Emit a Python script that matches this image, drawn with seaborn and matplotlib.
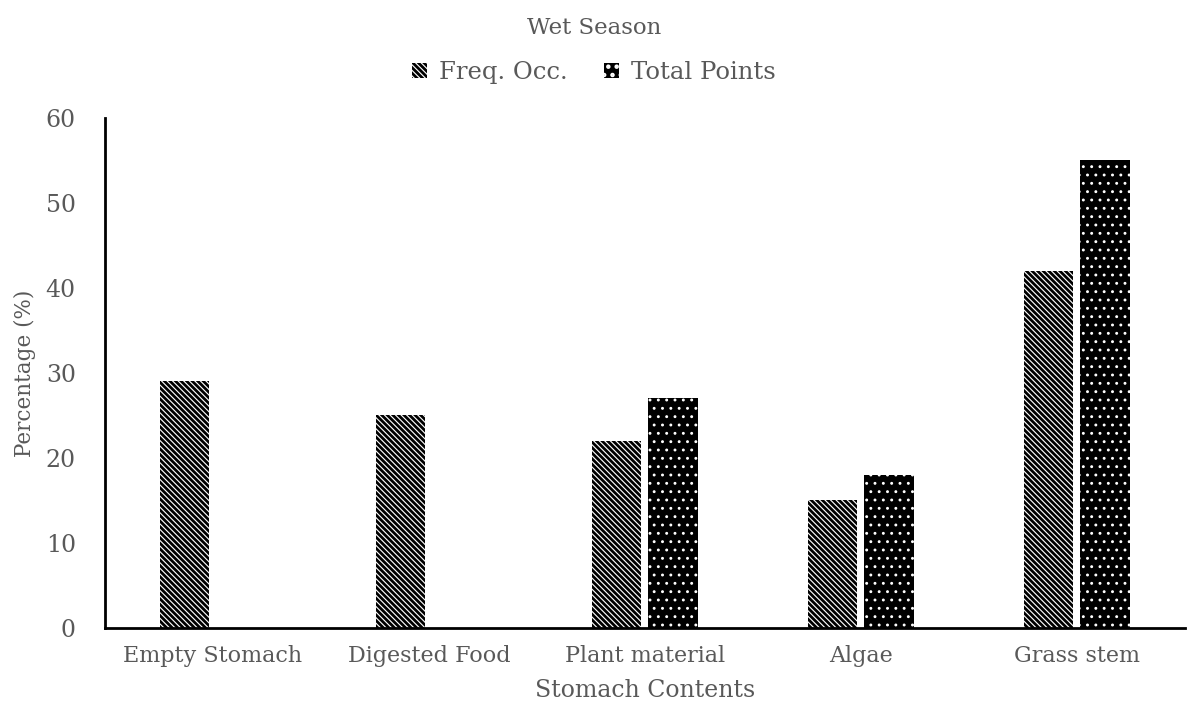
import pandas as pd
import seaborn as sns
import matplotlib.pyplot as plt
from matplotlib.patches import Patch

# stomach contents, wet season
categories = ['Empty Stomach', 'Digested Food', 'Plant material', 'Algae', 'Grass stem']
freq_occ = [29, 25, 22, 15, 42]
total_points = [0, 0, 27, 18, 55]

df = pd.DataFrame({
    'Stomach Contents': categories * 2,
    'Percentage': freq_occ + total_points,
    'Series': ['Freq. Occ.'] * 5 + ['Total Points'] * 5,
})

sns.set_style('white')
plt.rcParams['font.family'] = ['DejaVu Serif']
plt.rcParams['hatch.linewidth'] = 2.0
grey = '#595959'
stripe = '\\' * 6
dots = '..'


def set_hlw(p, lw):
    if hasattr(p, 'set_hatch_linewidth'):
        p.set_hatch_linewidth(lw)
    else:
        p._hatch_linewidth = lw


fig = plt.figure(figsize=(11.88, 7.03), dpi=100)
ax = fig.add_axes([0.0884, 0.1067, 0.909, 0.7255])

sns.barplot(data=df, x='Stomach Contents', y='Percentage', hue='Series',
            order=categories, width=0.52, gap=0.125, ax=ax, legend=False)

n = len(categories)
for i, bar in enumerate(ax.patches[:2 * n]):
    bar.set_linewidth(0)
    if i < n:
        bar.set_facecolor('white')
        bar.set_edgecolor('black')
        bar.set_hatch(stripe)
        set_hlw(bar, 2.0)
    else:
        bar.set_facecolor('black')
        bar.set_edgecolor('white')
        bar.set_hatch(dots)
        set_hlw(bar, 0.9)

ax.set_ylim(0, 60)
ax.set_xlim(-0.5, n - 0.5)
ax.set_yticks(range(0, 61, 10))
ax.tick_params(axis='both', length=0, colors=grey)
ax.tick_params(axis='y', labelsize=17, pad=21)
ax.tick_params(axis='x', labelsize=16, pad=12)
ax.set_xlabel('Stomach Contents', fontsize=17, color=grey, labelpad=9)
ax.set_ylabel('Percentage (%)', fontsize=15.5, color=grey)
ax.yaxis.set_label_coords(-0.064, 0.5)

for side in ['top', 'right']:
    ax.spines[side].set_visible(False)
for side in ['left', 'bottom']:
    ax.spines[side].set_color('black')
    ax.spines[side].set_linewidth(2)

h1 = Patch(facecolor='white', edgecolor='black', hatch=stripe, linewidth=0, label='Freq. Occ.')
h2 = Patch(facecolor='black', edgecolor='white', hatch=dots, linewidth=0, label='Total Points')
set_hlw(h1, 2.0)
set_hlw(h2, 0.9)
leg = fig.legend(handles=[h1, h2], loc='center', bbox_to_anchor=(0.5, 0.897), ncol=2,
                 frameon=False, fontsize=17.5, handlelength=0.6, handleheight=0.6,
                 handletextpad=0.5, columnspacing=1.5)
for t in leg.get_texts():
    t.set_color(grey)

fig.text(0.5, 0.96, 'Wet Season', ha='center', va='center', fontsize=16.5, color=grey)

fig.savefig('out.png', dpi=100)
